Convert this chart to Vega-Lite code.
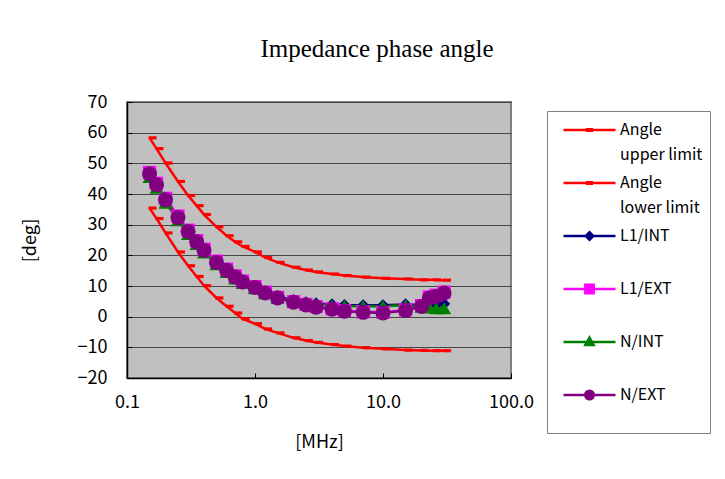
{
  "$schema": "https://vega.github.io/schema/vega-lite/v6.json",
  "width": 384,
  "height": 276,
  "autosize": {"type": "none"},
  "padding": {"left": 127, "top": 102, "right": 214, "bottom": 101},
  "background": "white",
  "title": {
    "text": "Impedance phase angle",
    "font": "Liberation Serif",
    "fontSize": 25,
    "fontWeight": "normal",
    "color": "black",
    "anchor": "middle",
    "frame": "group",
    "dx": 58,
    "offset": 31
  },
  "config": {
    "view": {"fill": "#C0C0C0", "stroke": "#808080", "strokeWidth": 2},
    "axis": {
      "labelFont": "Noto Sans CJK JP",
      "labelFontSize": 18,
      "labelColor": "black",
      "titleFont": "Noto Sans CJK JP",
      "titleFontSize": 18,
      "titleFontWeight": "normal",
      "titleColor": "black",
      "domainColor": "black",
      "domainWidth": 1.5,
      "tickColor": "black"
    },
    "legend": {
      "labelFont": "Noto Sans CJK JP",
      "labelFontSize": 16,
      "labelColor": "black",
      "labelLimit": 300
    }
  },
  "datasets": {
    "limits": [
      {"f": 0.15, "v": 58.3, "s": "Angle upper limit"}, {"f": 0.17, "v": 54.8, "s": "Angle upper limit"}, {"f": 0.2, "v": 50.1, "s": "Angle upper limit"}, {"f": 0.25, "v": 44.1, "s": "Angle upper limit"}, {"f": 0.3, "v": 39.5, "s": "Angle upper limit"}, {"f": 0.35, "v": 36.2, "s": "Angle upper limit"}, {"f": 0.4, "v": 33.3, "s": "Angle upper limit"}, {"f": 0.5, "v": 29.3, "s": "Angle upper limit"}, {"f": 0.6, "v": 26.4, "s": "Angle upper limit"}, {"f": 0.7, "v": 24.4, "s": "Angle upper limit"}, {"f": 0.8, "v": 22.9, "s": "Angle upper limit"}, {"f": 1.0, "v": 21.1, "s": "Angle upper limit"}, {"f": 1.2, "v": 19.3, "s": "Angle upper limit"}, {"f": 1.5, "v": 17.7, "s": "Angle upper limit"}, {"f": 2, "v": 16.1, "s": "Angle upper limit"}, {"f": 2.5, "v": 15.2, "s": "Angle upper limit"}, {"f": 3, "v": 14.6, "s": "Angle upper limit"}, {"f": 4, "v": 13.9, "s": "Angle upper limit"}, {"f": 5, "v": 13.4, "s": "Angle upper limit"}, {"f": 7, "v": 12.9, "s": "Angle upper limit"}, {"f": 10, "v": 12.5, "s": "Angle upper limit"}, {"f": 15, "v": 12.3, "s": "Angle upper limit"}, {"f": 20, "v": 12.0, "s": "Angle upper limit"}, {"f": 25, "v": 12.0, "s": "Angle upper limit"}, {"f": 30, "v": 11.9, "s": "Angle upper limit"},
      {"f": 0.15, "v": 35.4, "s": "Angle lower limit"}, {"f": 0.17, "v": 32.0, "s": "Angle lower limit"}, {"f": 0.2, "v": 27.3, "s": "Angle lower limit"}, {"f": 0.25, "v": 21.1, "s": "Angle lower limit"}, {"f": 0.3, "v": 16.6, "s": "Angle lower limit"}, {"f": 0.35, "v": 13.1, "s": "Angle lower limit"}, {"f": 0.4, "v": 10.1, "s": "Angle lower limit"}, {"f": 0.5, "v": 6.1, "s": "Angle lower limit"}, {"f": 0.6, "v": 3.4, "s": "Angle lower limit"}, {"f": 0.7, "v": 1.2, "s": "Angle lower limit"}, {"f": 0.8, "v": -0.7, "s": "Angle lower limit"}, {"f": 1.0, "v": -2.3, "s": "Angle lower limit"}, {"f": 1.2, "v": -4.0, "s": "Angle lower limit"}, {"f": 1.5, "v": -5.3, "s": "Angle lower limit"}, {"f": 2, "v": -6.9, "s": "Angle lower limit"}, {"f": 2.5, "v": -7.8, "s": "Angle lower limit"}, {"f": 3, "v": -8.4, "s": "Angle lower limit"}, {"f": 4, "v": -9.1, "s": "Angle lower limit"}, {"f": 5, "v": -9.6, "s": "Angle lower limit"}, {"f": 7, "v": -10.1, "s": "Angle lower limit"}, {"f": 10, "v": -10.5, "s": "Angle lower limit"}, {"f": 15, "v": -10.9, "s": "Angle lower limit"}, {"f": 20, "v": -11.0, "s": "Angle lower limit"}, {"f": 25, "v": -11.1, "s": "Angle lower limit"}, {"f": 30, "v": -11.1, "s": "Angle lower limit"}
    ],
    "meas": [
      {"f": 0.15, "v": 45.9, "s": "L1/INT"}, {"f": 0.17, "v": 42.4, "s": "L1/INT"}, {"f": 0.2, "v": 37.5, "s": "L1/INT"}, {"f": 0.25, "v": 31.8, "s": "L1/INT"}, {"f": 0.3, "v": 27.3, "s": "L1/INT"}, {"f": 0.35, "v": 24.0, "s": "L1/INT"}, {"f": 0.4, "v": 21.3, "s": "L1/INT"}, {"f": 0.5, "v": 17.4, "s": "L1/INT"}, {"f": 0.6, "v": 14.9, "s": "L1/INT"}, {"f": 0.7, "v": 12.8, "s": "L1/INT"}, {"f": 0.8, "v": 11.3, "s": "L1/INT"}, {"f": 1.0, "v": 9.6, "s": "L1/INT"}, {"f": 1.2, "v": 8.0, "s": "L1/INT"}, {"f": 1.5, "v": 6.6, "s": "L1/INT"}, {"f": 2, "v": 5.4, "s": "L1/INT"}, {"f": 2.5, "v": 4.7, "s": "L1/INT"}, {"f": 3, "v": 4.3, "s": "L1/INT"}, {"f": 4, "v": 4.0, "s": "L1/INT"}, {"f": 5, "v": 3.8, "s": "L1/INT"}, {"f": 7, "v": 3.7, "s": "L1/INT"}, {"f": 10, "v": 3.7, "s": "L1/INT"}, {"f": 15, "v": 4.0, "s": "L1/INT"}, {"f": 20, "v": 3.8, "s": "L1/INT"}, {"f": 23, "v": 3.9, "s": "L1/INT"}, {"f": 26, "v": 4.0, "s": "L1/INT"}, {"f": 30, "v": 4.2, "s": "L1/INT"},
      {"f": 0.15, "v": 47.0, "s": "L1/EXT"}, {"f": 0.17, "v": 43.5, "s": "L1/EXT"}, {"f": 0.2, "v": 38.6, "s": "L1/EXT"}, {"f": 0.25, "v": 32.8, "s": "L1/EXT"}, {"f": 0.3, "v": 28.2, "s": "L1/EXT"}, {"f": 0.35, "v": 24.8, "s": "L1/EXT"}, {"f": 0.4, "v": 22.0, "s": "L1/EXT"}, {"f": 0.5, "v": 18.1, "s": "L1/EXT"}, {"f": 0.6, "v": 15.5, "s": "L1/EXT"}, {"f": 0.7, "v": 13.3, "s": "L1/EXT"}, {"f": 0.8, "v": 11.6, "s": "L1/EXT"}, {"f": 1.0, "v": 9.8, "s": "L1/EXT"}, {"f": 1.2, "v": 8.0, "s": "L1/EXT"}, {"f": 1.5, "v": 6.3, "s": "L1/EXT"}, {"f": 2, "v": 4.9, "s": "L1/EXT"}, {"f": 2.5, "v": 4.0, "s": "L1/EXT"}, {"f": 3, "v": 3.3, "s": "L1/EXT"}, {"f": 4, "v": 2.6, "s": "L1/EXT"}, {"f": 5, "v": 2.0, "s": "L1/EXT"}, {"f": 7, "v": 1.6, "s": "L1/EXT"}, {"f": 10, "v": 1.4, "s": "L1/EXT"}, {"f": 15, "v": 2.2, "s": "L1/EXT"}, {"f": 20, "v": 3.6, "s": "L1/EXT"}, {"f": 23, "v": 6.4, "s": "L1/EXT"}, {"f": 26, "v": 7.0, "s": "L1/EXT"}, {"f": 30, "v": 8.0, "s": "L1/EXT"},
      {"f": 0.15, "v": 45.6, "s": "N/INT"}, {"f": 0.17, "v": 42.1, "s": "N/INT"}, {"f": 0.2, "v": 37.2, "s": "N/INT"}, {"f": 0.25, "v": 31.5, "s": "N/INT"}, {"f": 0.3, "v": 27.0, "s": "N/INT"}, {"f": 0.35, "v": 23.7, "s": "N/INT"}, {"f": 0.4, "v": 21.0, "s": "N/INT"}, {"f": 0.5, "v": 17.1, "s": "N/INT"}, {"f": 0.6, "v": 14.6, "s": "N/INT"}, {"f": 0.7, "v": 12.5, "s": "N/INT"}, {"f": 0.8, "v": 11.0, "s": "N/INT"}, {"f": 1.0, "v": 9.3, "s": "N/INT"}, {"f": 1.2, "v": 7.7, "s": "N/INT"}, {"f": 1.5, "v": 6.3, "s": "N/INT"}, {"f": 2, "v": 5.1, "s": "N/INT"}, {"f": 2.5, "v": 4.4, "s": "N/INT"}, {"f": 3, "v": 4.0, "s": "N/INT"}, {"f": 4, "v": 3.7, "s": "N/INT"}, {"f": 5, "v": 3.5, "s": "N/INT"}, {"f": 7, "v": 3.4, "s": "N/INT"}, {"f": 10, "v": 3.4, "s": "N/INT"}, {"f": 15, "v": 3.7, "s": "N/INT"}, {"f": 20, "v": 3.3, "s": "N/INT"}, {"f": 23, "v": 3.0, "s": "N/INT"}, {"f": 26, "v": 2.8, "s": "N/INT"}, {"f": 30, "v": 2.8, "s": "N/INT"},
      {"f": 0.15, "v": 46.6, "s": "N/EXT"}, {"f": 0.17, "v": 43.0, "s": "N/EXT"}, {"f": 0.2, "v": 38.1, "s": "N/EXT"}, {"f": 0.25, "v": 32.3, "s": "N/EXT"}, {"f": 0.3, "v": 27.8, "s": "N/EXT"}, {"f": 0.35, "v": 24.4, "s": "N/EXT"}, {"f": 0.4, "v": 21.6, "s": "N/EXT"}, {"f": 0.5, "v": 17.7, "s": "N/EXT"}, {"f": 0.6, "v": 15.1, "s": "N/EXT"}, {"f": 0.7, "v": 12.9, "s": "N/EXT"}, {"f": 0.8, "v": 11.3, "s": "N/EXT"}, {"f": 1.0, "v": 9.5, "s": "N/EXT"}, {"f": 1.2, "v": 7.7, "s": "N/EXT"}, {"f": 1.5, "v": 6.1, "s": "N/EXT"}, {"f": 2, "v": 4.7, "s": "N/EXT"}, {"f": 2.5, "v": 3.8, "s": "N/EXT"}, {"f": 3, "v": 3.1, "s": "N/EXT"}, {"f": 4, "v": 2.4, "s": "N/EXT"}, {"f": 5, "v": 1.8, "s": "N/EXT"}, {"f": 7, "v": 1.4, "s": "N/EXT"}, {"f": 10, "v": 1.2, "s": "N/EXT"}, {"f": 15, "v": 2.0, "s": "N/EXT"}, {"f": 20, "v": 3.3, "s": "N/EXT"}, {"f": 23, "v": 6.1, "s": "N/EXT"}, {"f": 26, "v": 6.6, "s": "N/EXT"}, {"f": 30, "v": 7.7, "s": "N/EXT"}
    ]
  },
  "encoding": {
    "x": {
      "field": "f", "type": "quantitative",
      "scale": {"type": "log", "domain": [0.1, 100]},
      "axis": {"title": "[MHz]", "values": [0.1, 1, 10, 100], "format": ".1f", "grid": false, "tickSize": -5, "labelPadding": 20, "titlePadding": 22, "labelFlush": false}
    },
    "y": {
      "field": "v", "type": "quantitative",
      "scale": {"domain": [-20, 70], "nice": false},
      "axis": {"title": "[deg]", "values": [-20, -10, 0, 10, 20, 30, 40, 50, 60, 70], "grid": true, "gridColor": "#454545", "gridWidth": 1.2, "tickSize": -5, "labelPadding": 25, "titlePadding": 38}
    },
    "color": {
      "field": "s", "type": "nominal",
      "scale": {
        "domain": ["Angle upper limit", "Angle lower limit", "L1/INT", "L1/EXT", "N/INT", "N/EXT"],
        "range": ["#FF0000", "#FF0000", "#000080", "#FF00FF", "#008000", "#800080"]
      },
      "legend": null
    }
  },
  "layer": [
    {
      "data": {"name": "limits"},
      "mark": {"type": "line", "strokeWidth": 2.5},
      "encoding": {
        "color": {
          "field": "s", "type": "nominal",
          "legend": {
            "title": " ",
            "titleOrient": "bottom",
            "titleFontSize": 14,
            "titlePadding": 5,
            "orient": "none",
            "legendX": 420,
            "legendY": 9,
            "padding": 7,
            "strokeColor": "#808080",
            "fillColor": "white",
            "symbolSize": 2704,
            "symbolStrokeWidth": 2.5,
            "clipHeight": 24,
            "gridAlign": "all",
            "rowPadding": 8,
            "labelOffset": 3,
            "symbolOffset": 8,
            "labelExpr": "datum.label == 'Angle upper limit' ? ['Angle', 'upper limit'] : datum.label == 'Angle lower limit' ? ['Angle', 'lower limit'] : datum.label",
            "encode": {
              "symbols": {
                "update": {
                  "shape": {"signal": "datum.value == 'L1/INT' ? 'M-1,0H1M0,-0.145L0.145,0L0,0.145L-0.145,0Z' : datum.value == 'L1/EXT' ? 'M-1,0H1M-0.16,-0.16H0.16V0.16H-0.16Z' : datum.value == 'N/INT' ? 'M-1,0H1M0,-0.17L0.16,0.12H-0.16Z' : datum.value == 'N/EXT' ? 'M-1,0H1M0.165,0A0.165,0.165 0 1,1 -0.165,0A0.165,0.165 0 1,1 0.165,0Z' : 'M-1,0H1M-0.09,-0.03H0.09V0.03H-0.09Z'"},
                  "fill": {"signal": "scale('color', datum.value)"},
                  "stroke": {"signal": "scale('color', datum.value)"},
                  "strokeWidth": {"value": 2.5},
                  "size": {"value": 2704},
                  "opacity": {"value": 1}
                }
              },
              "labels": {
                "update": {
                  "lineHeight": {"value": 25}
                }
              }
            }
          }
        }
      }
    },
    {
      "data": {"name": "limits"},
      "mark": {"type": "point", "filled": true, "opacity": 1, "shape": "M-0.25,-0.4H1.75V0.4H-0.25Z", "size": 64, "color": "#FF0000"}
    },
    {
      "data": {"name": "meas"},
      "mark": {"type": "line", "strokeWidth": 2.5}
    },
    {
      "data": {"name": "meas"},
      "mark": {"type": "point", "filled": true, "opacity": 1},
      "encoding": {
        "shape": {
          "field": "s", "type": "nominal",
          "scale": {"domain": ["L1/INT", "L1/EXT", "N/INT", "N/EXT"], "range": ["diamond", "square", "triangle-up", "circle"]},
          "legend": null
        },
        "size": {
          "field": "s", "type": "nominal",
          "scale": {"domain": ["L1/INT", "L1/EXT", "N/INT", "N/EXT"], "range": [150, 225, 170, 225]},
          "legend": null
        }
      }
    }
  ]
}
